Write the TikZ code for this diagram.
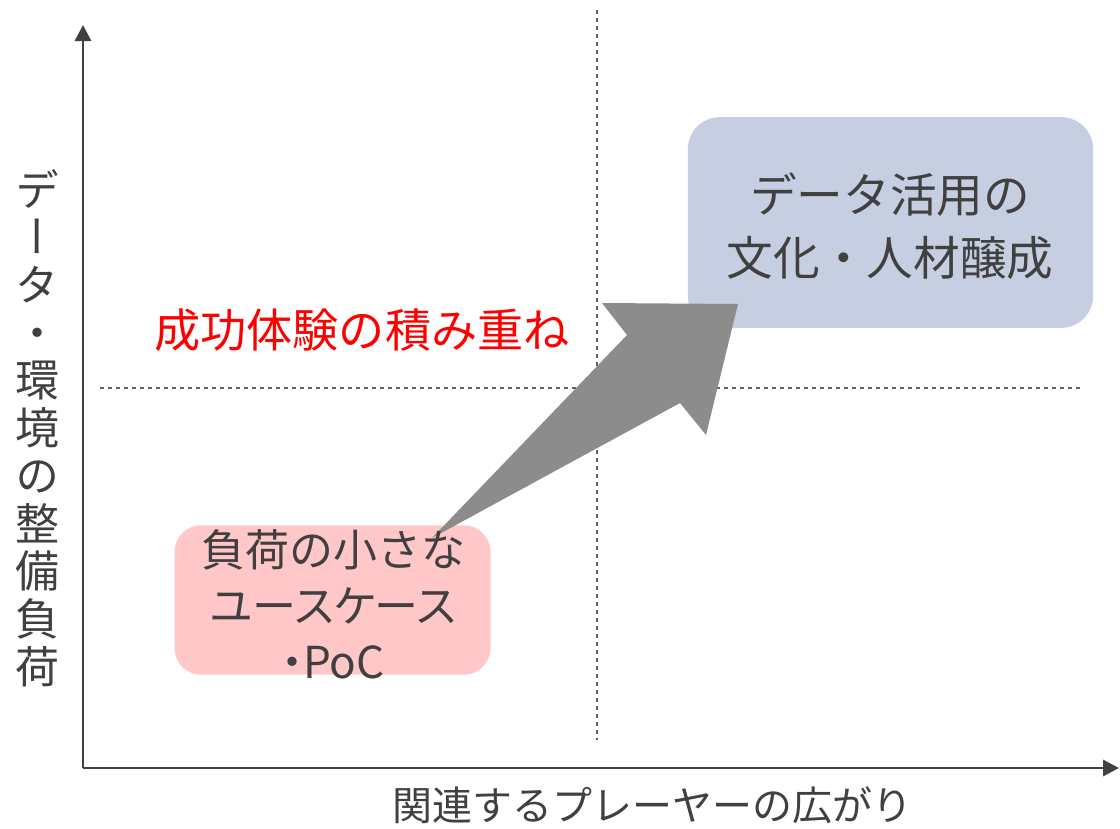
\documentclass[tikz,border=0pt]{standalone}
\usepackage{fontspec}
\setmainfont{Noto Sans CJK JP}
\newfontfamily\pfont[RawFeature=+palt]{Noto Sans CJK JP}
\newfontfamily\vfont[RawFeature=+vert]{Noto Sans CJK JP}
\usetikzlibrary{arrows.meta}
\definecolor{txt}{HTML}{404040}
\definecolor{axis}{HTML}{404040}
\definecolor{pinkbox}{HTML}{FFC7C7}
\definecolor{bluebox}{HTML}{C6CFE1}
\definecolor{bigarrow}{HTML}{8C8C8C}
\definecolor{guide}{HTML}{606060}
\tikzset{
  axisline/.style={draw=axis, line width=2.2pt, -{Triangle[width=12pt,length=12pt]}},
  guideline/.style={draw=guide, line width=0.8pt, dash pattern=on 3pt off 3pt},
  panel/.style={rounded corners=20pt, inner sep=0pt},
  boxtext/.style={text=txt, align=center, font=\fontsize{33}{43}\selectfont},
}
\begin{document}
\begin{tikzpicture}[x=0.75pt,y=-0.75pt]
\useasboundingbox (0,0) rectangle (1120,828);
% guides
\coordinate (vg1) at (597,10);
\coordinate (vg2) at (597,740);
\coordinate (hg1) at (100,388);
\coordinate (hg2) at (1082,388);
\draw[guideline] (vg1) -- (vg2);
\draw[guideline] (hg1) -- (hg2);
% axes
\coordinate (O) at (83,768);
\coordinate (ytop) at (83,25);
\coordinate (xend) at (1119,768);
\draw[axisline] (O) -- (ytop);
\draw[axisline] (O) -- (xend);
% boxes
\node[panel, fill=pinkbox, minimum width=237pt, minimum height=112pt] (lowbox) at (332.5,600) {};
\node[panel, fill=bluebox, minimum width=304pt, minimum height=158pt, rounded corners=24pt] (highbox) at (890.5,222.5) {};
% big arrow
\coordinate (a0) at (432,538);
\coordinate (a1) at (627,335);
\coordinate (a2) at (602,303);
\coordinate (a3) at (738,304);
\coordinate (a4) at (706,435);
\coordinate (a5) at (680,403);
\fill[bigarrow] (a0) -- (a1) -- (a2) -- (a3) -- (a4) -- (a5) -- cycle;
% texts
\node[boxtext, font=\fontsize{33}{42}\selectfont] (lowtxt) at (333,604) {負荷の小さな\\{\pfont ユースケース}\\{\pfont ・PoC}};
\node[boxtext, font=\fontsize{35}{47}\selectfont] (hightxt) at (890,226) {データ活用の\\文化・人材醸成};
\node[text=red, font=\fontsize{34.6}{40}\selectfont] (succ) at (362,330) {成功体験の積み重ね};
\node[text=txt, font=\fontsize{30}{36}\selectfont] (xlab) at (652,805) {関連するプレーヤーの広がり};
\node[text=txt, align=center, font=\vfont\fontsize{33}{35.8}\selectfont] (ylab) at (38,428) {デ\\ー\\タ\\・\\環\\境\\の\\整\\備\\負\\荷};
\end{tikzpicture}
\end{document}
